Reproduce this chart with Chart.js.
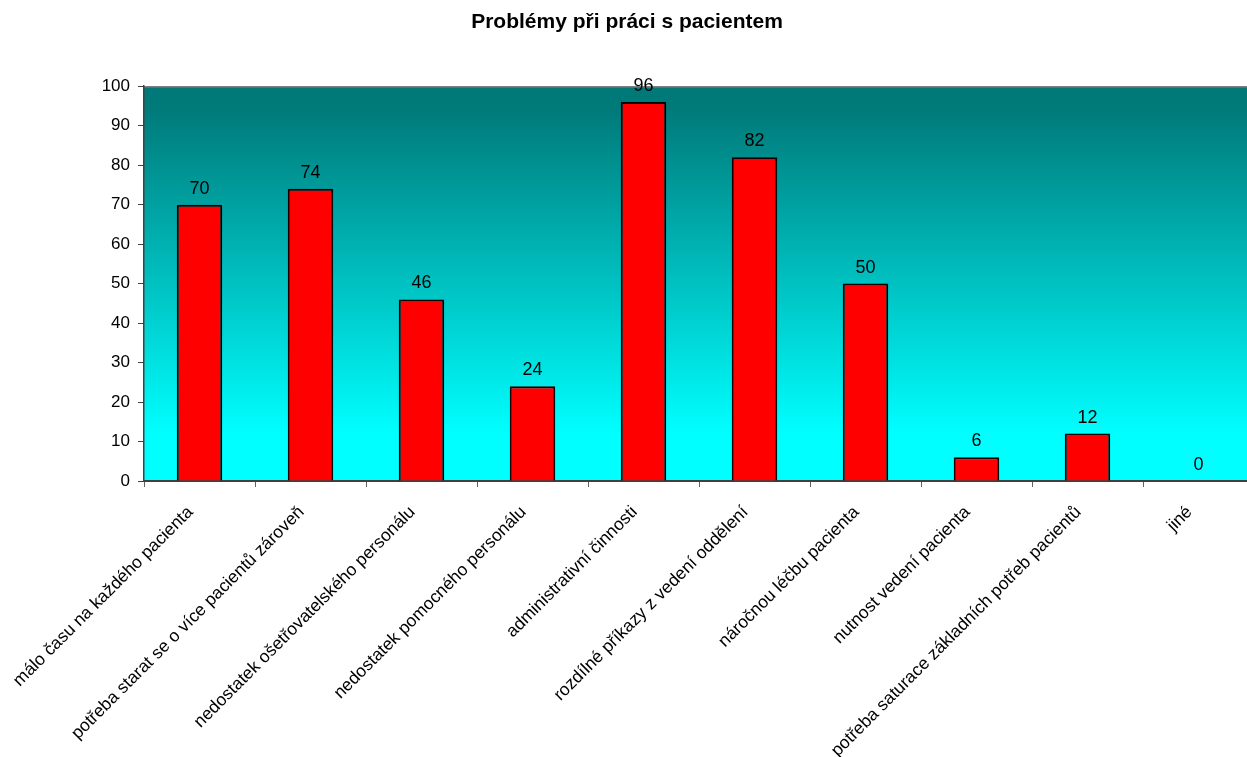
<!DOCTYPE html>
<html>
<head>
<meta charset="utf-8">
<script src="https://cdn.jsdelivr.net/npm/chart.js@4/dist/chart.umd.min.js"></script>
<style>
  html, body { margin: 0; padding: 0; background: #fff; overflow: hidden; }
  #wrap { width: 1256px; height: 757px; }
</style>
</head>
<body>
<div id="wrap"><canvas id="graf"></canvas></div>
<script>
const kategorie = [
  "málo času na každého pacienta",
  "potřeba starat se o více pacientů zároveň",
  "nedostatek ošetřovatelského personálu",
  "nedostatek pomocného personálu",
  "administrativní činnosti",
  "rozdílné příkazy z vedení oddělení",
  "náročnou léčbu pacienta",
  "nutnost vedení pacienta",
  "potřeba saturace základních potřeb pacientů",
  "jiné"
];
const hodnoty = [70, 74, 46, 24, 96, 82, 50, 6, 12, 0];
const osaY = [0, 10, 20, 30, 40, 50, 60, 70, 80, 90, 100];

const pismo = "'Liberation Sans', Arial, sans-serif";

// pozadi grafu - prechod od tmave tyrkysove k azurove
const pozadi = {
  id: "pozadi",
  beforeDraw(chart) {
    const a = chart.chartArea;
    const ctx = chart.ctx;
    const g = ctx.createLinearGradient(0, a.top, 0, a.bottom);
    g.addColorStop(0, "rgb(0,120,120)");
    g.addColorStop(0.06, "rgb(0,122,122)");
    g.addColorStop(0.88, "rgb(0,255,255)");
    g.addColorStop(1, "rgb(0,255,255)");
    ctx.save();
    ctx.fillStyle = g;
    ctx.fillRect(a.left, a.top, a.right - a.left, a.bottom - a.top);
    ctx.strokeStyle = "#808080";
    ctx.lineWidth = 1.5;
    ctx.beginPath();
    ctx.moveTo(a.left, a.top + 0.5);
    ctx.lineTo(a.right, a.top + 0.5);
    ctx.stroke();
    ctx.restore();
  }
};

// popisky hodnot nad sloupci
const popisky = {
  id: "popisky",
  afterDatasetsDraw(chart) {
    const ctx = chart.ctx;
    const meta = chart.getDatasetMeta(0);
    ctx.save();
    ctx.font = "18px " + pismo;
    ctx.fillStyle = "#000";
    ctx.textAlign = "center";
    ctx.textBaseline = "bottom";
    meta.data.forEach((bar, i) => {
      ctx.fillText(String(hodnoty[i]), bar.x, bar.y - 7);
    });
    ctx.restore();
  }
};

new Chart(document.getElementById("graf"), {
  type: "bar",
  data: {
    labels: kategorie,
    datasets: [{
      data: hodnoty,
      backgroundColor: "#ff0000",
      borderColor: "#000000",
      borderWidth: 2,
      barPercentage: 0.41,
      categoryPercentage: 1
    }]
  },
  options: {
    responsive: true,
    maintainAspectRatio: false,
    animation: false,
    layout: { padding: { left: 0, right: 2, top: 0, bottom: 0 } },
    plugins: {
      legend: { display: false },
      tooltip: { enabled: false },
      title: {
        display: true,
        text: "Problémy při práci s pacientem",
        color: "#000",
        font: { family: pismo, size: 21, weight: "bold" },
        padding: { top: 10, bottom: 51 }
      }
    },
    scales: {
      x: {
        grid: { display: true, drawOnChartArea: false, drawTicks: true, tickLength: 6, color: "#606060", offset: true },
        border: { display: true, color: "#404040", width: 2 },
        ticks: {
          color: "#000",
          font: { family: pismo, size: 17.5 },
          minRotation: 45,
          maxRotation: 45,
          autoSkip: false,
          padding: 15,
          labelOffset: -9
        },
        afterFit(scale) { scale.height = 276; }
      },
      y: {
        min: 0,
        max: 100,
        afterBuildTicks(scale) { scale.ticks = osaY.map(v => ({ value: v })); },
        grid: { display: true, drawOnChartArea: false, drawTicks: true, tickLength: 6, color: "#404040" },
        border: { display: true, color: "#404040", width: 1.5 },
        ticks: {
          color: "#000",
          font: { family: pismo, size: 17 },
          padding: 8
        },
        afterFit(scale) { scale.width = 144; }
      }
    }
  },
  plugins: [pozadi, popisky]
});
</script>
</body>
</html>
